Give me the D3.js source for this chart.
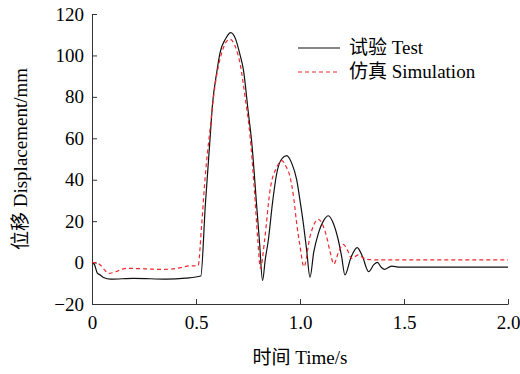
<!DOCTYPE html>
<html>
<head>
<meta charset="utf-8">
<script src="https://cdn.jsdelivr.net/npm/d3@7"></script>
<style>
  html, body { margin: 0; padding: 0; background: #fff; }
  svg { display: block; }
</style>
</head>
<body>
<svg id="chart" width="520" height="374"></svg>
<script>
// time (s) and displacement (mm)
const testTime = [0, 0.012, 0.025, 0.04, 0.055, 0.09, 0.2, 0.36, 0.45, 0.523, 0.545, 0.567, 0.58, 0.6, 0.615, 0.645, 0.667, 0.69, 0.71, 0.728, 0.752, 0.767, 0.792, 0.806, 0.82, 0.833, 0.848, 0.868, 0.888, 0.912, 0.936, 0.96, 0.984, 1.0, 1.016, 1.032, 1.048, 1.066, 1.088, 1.115, 1.136, 1.16, 1.184, 1.2, 1.216, 1.245, 1.275, 1.30, 1.33, 1.355, 1.372, 1.39, 1.406, 1.44, 1.48, 2.0];
const testDisp = [0, -1, -5, -6, -7.2, -8, -7.6, -8, -7.5, -6.5, 28, 59, 77, 92, 101, 108.5, 111, 108, 101, 93, 72, 59, 27, 9, -8.7, 1.5, 11, 29, 43, 50, 51.6, 48, 40, 30, 19, 6, -7.1, 5, 14, 20.5, 22.6, 19, 10.9, 3, -6, 2.5, 7.2, 3, -4.4, -1, 0.1, -2.2, -3.3, -1.7, -2.2, -2.2];

const simTime = [0, 0.02, 0.04, 0.06, 0.08, 0.1, 0.13, 0.17, 0.25, 0.34, 0.42, 0.47, 0.51, 0.527, 0.543, 0.567, 0.591, 0.623, 0.645, 0.663, 0.69, 0.712, 0.736, 0.76, 0.78, 0.797, 0.81, 0.83, 0.856, 0.888, 0.912, 0.935, 0.952, 0.97, 0.984, 1.0, 1.019, 1.048, 1.07, 1.088, 1.11, 1.128, 1.145, 1.163, 1.185, 1.208, 1.228, 1.248, 1.28, 1.3, 1.32, 1.36, 2.0];
const simDisp = [0, 0, -1.2, -3.5, -5.2, -4.9, -3.8, -2.8, -3, -3.3, -2.6, -1.6, -1.5, 18, 40, 64, 85, 101, 106.5, 107.8, 104, 96, 80, 61, 36, 11, -2.8, 11, 35, 46, 49.2, 46, 41.5, 31, 19, 8, -2, 12.5, 19, 20.9, 18, 12.5, 5, -0.7, 5, 8.8, 6, 2, 3.7, 2.5, 1.6, 1.3, 1.3];

const xTicks = [0, 0.5, 1, 1.5, 2];
const xTickLabels = ['0', '0.5', '1.0', '1.5', '2.0'];
const yTicks = [-20, 0, 20, 40, 60, 80, 100, 120];
const yTickLabels = ['\u221220', '0', '20', '40', '60', '80', '100', '120'];

const seriesNames = ['试验 Test', '仿真 Simulation'];
const xTitle = '时间 Time/s';
const yTitle = '位移 Displacement/mm';

const font = "'Liberation Serif', 'Times New Roman', 'Noto Sans CJK SC', serif";
const fontSize = 19;

const margin = { top: 14, right: 12, bottom: 70, left: 92 };
const width = 520;
const height = 374;

const svg = d3.select('#chart');

const x = d3.scaleLinear()
  .domain([0, 2])
  .range([margin.left, width - margin.right]);

const y = d3.scaleLinear()
  .domain([-20, 120])
  .range([height - margin.bottom, margin.top]);

const xAxis = g => g
  .attr('transform', `translate(0,${height - margin.bottom})`)
  .call(d3.axisBottom(x)
    .tickValues(xTicks)
    .tickFormat((d, i) => xTickLabels[i])
    .tickSizeInner(-5)
    .tickSizeOuter(0)
    .tickPadding(12))
  .call(g => g.selectAll('line, path').attr('stroke', '#333'))
  .call(g => g.selectAll('text')
    .attr('font-family', font)
    .attr('font-size', fontSize)
    .attr('fill', '#000'));

const yAxis = g => g
  .attr('transform', `translate(${margin.left},0)`)
  .call(d3.axisLeft(y)
    .tickValues(yTicks)
    .tickFormat((d, i) => yTickLabels[i])
    .tickSizeInner(-5)
    .tickSizeOuter(0)
    .tickPadding(8))
  .call(g => g.selectAll('line, path').attr('stroke', '#333'))
  .call(g => g.selectAll('text')
    .attr('font-family', font)
    .attr('font-size', fontSize)
    .attr('fill', '#000'));

svg.append('g').call(xAxis);
svg.append('g').call(yAxis);

const line = d3.line()
  .x(d => x(d[0]))
  .y(d => y(d[1]))
  .curve(d3.curveMonotoneX);

const testData = testTime.map((t, i) => [t, testDisp[i]]);
const simData = simTime.map((t, i) => [t, simDisp[i]]);

svg.append('path')
  .datum(testData)
  .attr('fill', 'none')
  .attr('stroke', '#111')
  .attr('stroke-width', 1.2)
  .attr('d', line);

svg.append('path')
  .datum(simData)
  .attr('fill', 'none')
  .attr('stroke', '#f0282d')
  .attr('stroke-width', 1.2)
  .attr('stroke-dasharray', '4,3')
  .attr('d', line);

// legend
const legend = svg.append('g')
  .selectAll('g')
  .data(seriesNames)
  .join('g')
  .attr('transform', (d, i) => `translate(298,${48 + i * 24})`);

legend.append('line')
  .attr('x1', 0)
  .attr('x2', 42)
  .attr('stroke', (d, i) => i === 0 ? '#111' : '#f0282d')
  .attr('stroke-width', 1.2)
  .attr('stroke-dasharray', (d, i) => i === 0 ? null : '4,3');

legend.append('text')
  .attr('x', 51)
  .attr('dy', '0.33em')
  .attr('font-family', font)
  .attr('font-size', fontSize)
  .text(d => d);

svg.append('text')
  .attr('x', (margin.left + width - margin.right) / 2)
  .attr('y', 364)
  .attr('text-anchor', 'middle')
  .attr('font-family', font)
  .attr('font-size', fontSize)
  .text(xTitle);

svg.append('text')
  .attr('transform', `translate(27,${(margin.top + height - margin.bottom) / 2}) rotate(-90)`)
  .attr('text-anchor', 'middle')
  .attr('font-family', font)
  .attr('font-size', fontSize)
  .text(yTitle);
</script>
</body>
</html>
